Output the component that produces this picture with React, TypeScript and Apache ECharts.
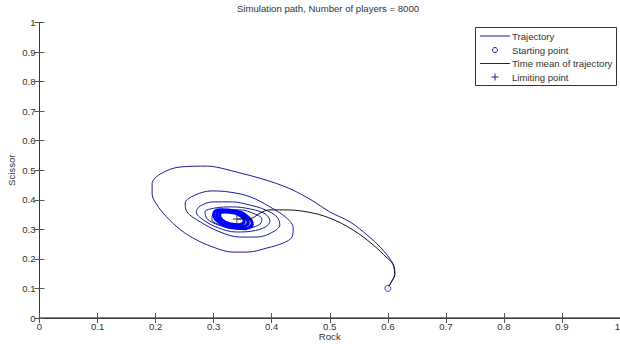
import React, { useEffect, useRef } from "react";
import * as echarts from "echarts";

const titleText = "Simulation path, Number of players = 8000";
const xName = "Rock";
const yName = "Scissor";
const legendNames = ["Trajectory", "Starting point", "Time mean of trajectory", "Limiting point"];
const axisMin = 0;
const axisMax = 1;
const axisStep = 0.1;

// Trajectory of the simulation (Rock, Scissor), spiralling inwards
const trajectory: [number, number][] = [
  [0.600, 0.100], [0.604, 0.115], [0.609, 0.132], [0.612, 0.152], [0.611, 0.173],
  [0.607, 0.190], [0.600, 0.210], [0.587, 0.240], [0.566, 0.278], [0.535, 0.325],
  [0.500, 0.359], [0.471, 0.396], [0.432, 0.437], [0.385, 0.470], [0.345, 0.491],
  [0.311, 0.508], [0.289, 0.514], [0.242, 0.511], [0.208, 0.487], [0.194, 0.454],
  [0.194, 0.420], [0.199, 0.393], [0.213, 0.355], [0.237, 0.308], [0.264, 0.271],
  [0.299, 0.240], [0.333, 0.223], [0.358, 0.223], [0.392, 0.237], [0.420, 0.254],
  [0.435, 0.274], [0.437, 0.305], [0.426, 0.338], [0.397, 0.376], [0.363, 0.410],
  [0.328, 0.426], [0.297, 0.430], [0.268, 0.416], [0.251, 0.389], [0.254, 0.359],
  [0.277, 0.325], [0.311, 0.291], [0.345, 0.274], [0.375, 0.274], [0.402, 0.291],
  [0.414, 0.315], [0.409, 0.342], [0.389, 0.366], [0.363, 0.382], [0.332, 0.393],
  [0.299, 0.393], [0.277, 0.379], [0.270, 0.359], [0.282, 0.332], [0.308, 0.305],
  [0.339, 0.291], [0.366, 0.294], [0.389, 0.308], [0.397, 0.328], [0.389, 0.352],
  [0.363, 0.369], [0.332, 0.376], [0.302, 0.372], [0.285, 0.359], [0.289, 0.335],
  [0.308, 0.315], [0.337, 0.301], [0.363, 0.305], [0.380, 0.318], [0.383, 0.335],
  [0.371, 0.352], [0.345, 0.366], [0.320, 0.366], [0.299, 0.352], [0.297, 0.332],
  [0.307, 0.318], [0.329, 0.307],
];

// Dense final orbits (the thick band around the limiting point)
const limitCycleOuter: [number, number][] = [
  [0.3666, 0.3168], [0.3542, 0.3023], [0.3295, 0.3066], [0.3071, 0.3271], [0.3001, 0.3519],
  [0.3125, 0.3664], [0.3371, 0.3621], [0.3595, 0.3416], [0.3666, 0.3168], [0.3542, 0.3023],
];
const limitCycleMid: [number, number][] = [
  [0.3598, 0.3213], [0.3495, 0.3090], [0.3293, 0.3124], [0.3109, 0.3294], [0.3052, 0.3501],
  [0.3155, 0.3624], [0.3357, 0.3591], [0.3540, 0.3421], [0.3598, 0.3213], [0.3495, 0.3090],
];
const limitCycleInner: [number, number][] = [
  [0.3529, 0.3258], [0.3448, 0.3157], [0.3290, 0.3181], [0.3147, 0.3316], [0.3103, 0.3483],
  [0.3184, 0.3584], [0.3342, 0.3560], [0.3485, 0.3425], [0.3529, 0.3258], [0.3448, 0.3157],
];

// Running time mean of the trajectory
const timeMean: [number, number][] = [
  [0.600, 0.100], [0.607, 0.125], [0.612, 0.146], [0.611, 0.169], [0.606, 0.190],
  [0.599, 0.203], [0.575, 0.247], [0.540, 0.298], [0.500, 0.338], [0.461, 0.359],
  [0.420, 0.366], [0.397, 0.366], [0.380, 0.355], [0.366, 0.338], [0.354, 0.335],
  [0.340, 0.335],
];

const startPoint: [number, number][] = [[0.600, 0.100]];
const limitingPoint: [number, number][] = [[0.340, 0.335]];

const BLUE = "#0000ff";
const NAVY = "#1c1c9c";
const FONT = "'Liberation Sans', Arial, Helvetica, sans-serif";
const TXT = "#333333";
const FS = 9.6;
const CROSS = "path://M4.4,0H5.6V4.4H10V5.6H5.6V10H4.4V5.6H0V4.4H4.4Z";

export default function App() {
  const ref = useRef<HTMLDivElement>(null);
  useEffect(() => {
    if (!ref.current) return;
    const chart = echarts.init(ref.current, null, { renderer: "svg" });
    const axisLine = { show: true, lineStyle: { color: "#383838", width: 1 } };
    const tick = { show: true, inside: true, length: 5, lineStyle: { color: "#555", width: 1 } };
    const baseAxis = {
      type: "value" as const,
      min: axisMin,
      max: axisMax,
      interval: axisStep,
      splitLine: { show: false },
      axisLine,
      axisTick: tick,
    };
    const lx = 475, ly = 27, lw = 141, lh = 58;
    const rows = [36, 50, 63.5, 77];
    const band = (data: [number, number][]) => ({
      name: "limit-cycle",
      type: "line",
      data,
      smooth: 0.5,
      symbol: "none",
      lineStyle: { color: BLUE, width: 3 },
      z: 2,
    });
    chart.setOption({
      animation: false,
      backgroundColor: "#ffffff",
      textStyle: { fontFamily: FONT },
      title: {
        text: titleText,
        left: 328,
        top: 3,
        padding: 0,
        textAlign: "center",
        textStyle: { fontSize: FS, fontWeight: "normal", color: TXT, fontFamily: FONT },
      },
      grid: {
        left: 39.5,
        top: 22.5,
        right: 0,
        bottom: 26,
        containLabel: false,
        outerBoundsMode: "none",
      },
      xAxis: [
        {
          ...baseAxis,
          position: "bottom",
          axisLine: { show: true, lineStyle: { color: "#8a8a8a", width: 2 } },
          name: xName,
          nameLocation: "middle",
          nameGap: 13,
          nameMoveOverlap: false,
          nameTextStyle: { fontSize: FS, color: TXT, fontFamily: FONT },
          axisLabel: {
            fontSize: FS,
            color: TXT,
            margin: 3,
            fontFamily: FONT,
            alignMaxLabel: "right",
          },
        },
        { ...baseAxis, position: "top", axisLabel: { show: false } },
      ],
      yAxis: [
        {
          ...baseAxis,
          position: "left",
          name: yName,
          nameLocation: "middle",
          nameGap: 23,
          nameMoveOverlap: false,
          nameTextStyle: { fontSize: FS, color: TXT, fontFamily: FONT },
          axisLabel: { fontSize: FS, color: TXT, margin: 4, fontFamily: FONT },
        },
        { ...baseAxis, position: "right", axisLabel: { show: false } },
      ],
      series: [
        {
          name: legendNames[0],
          type: "line",
          data: trajectory,
          smooth: 0.35,
          symbol: "none",
          lineStyle: { color: NAVY, width: 1 },
          z: 2,
        },
        band(limitCycleOuter),
        band(limitCycleMid),
        band(limitCycleInner),
        {
          name: legendNames[2],
          type: "line",
          data: timeMean,
          smooth: 0.4,
          symbol: "none",
          lineStyle: { color: "#111111", width: 1 },
          z: 3,
        },
        {
          name: legendNames[1],
          type: "scatter",
          data: startPoint,
          symbol: "circle",
          symbolSize: 6,
          itemStyle: { color: "#ffffff", borderColor: NAVY, borderWidth: 1 },
          z: 4,
        },
        {
          name: legendNames[3],
          type: "scatter",
          data: limitingPoint,
          symbol: CROSS,
          symbolSize: 8,
          itemStyle: { color: "#111133" },
          z: 4,
        },
      ],
      graphic: [
        {
          type: "group",
          z: 10,
          children: [
            {
              type: "rect",
              shape: { x: lx + 0.5, y: ly + 0.5, width: lw, height: lh },
              style: { fill: "#ffffff", stroke: "#333", lineWidth: 1 },
            },
            {
              type: "line",
              shape: { x1: lx + 5, y1: rows[0], x2: lx + 35, y2: rows[0] },
              style: { stroke: NAVY, lineWidth: 1 },
            },
            {
              type: "circle",
              shape: { cx: lx + 20, cy: rows[1], r: 2.5 },
              style: { fill: "#ffffff", stroke: NAVY, lineWidth: 1 },
            },
            {
              type: "line",
              shape: { x1: lx + 5, y1: rows[2], x2: lx + 35, y2: rows[2] },
              style: { stroke: "#222244", lineWidth: 1 },
            },
            {
              type: "line",
              shape: { x1: lx + 16.5, y1: rows[3], x2: lx + 23.5, y2: rows[3] },
              style: { stroke: NAVY, lineWidth: 1 },
            },
            {
              type: "line",
              shape: { x1: lx + 20, y1: rows[3] - 3.5, x2: lx + 20, y2: rows[3] + 3.5 },
              style: { stroke: NAVY, lineWidth: 1 },
            },
            ...legendNames.map((name, i) => ({
              type: "text",
              x: lx + 37,
              y: rows[i],
              style: {
                text: name,
                fill: TXT,
                font: `${FS}px ${FONT}`,
                textAlign: "left",
                textVerticalAlign: "middle",
                verticalAlign: "middle",
              },
            })),
          ],
        },
      ],
    });
    return () => chart.dispose();
  }, []);
  return (
    <div
      ref={ref}
      style={{ position: "fixed", left: 0, top: 0, width: 620, height: 344, background: "#fff" }}
    />
  );
}
